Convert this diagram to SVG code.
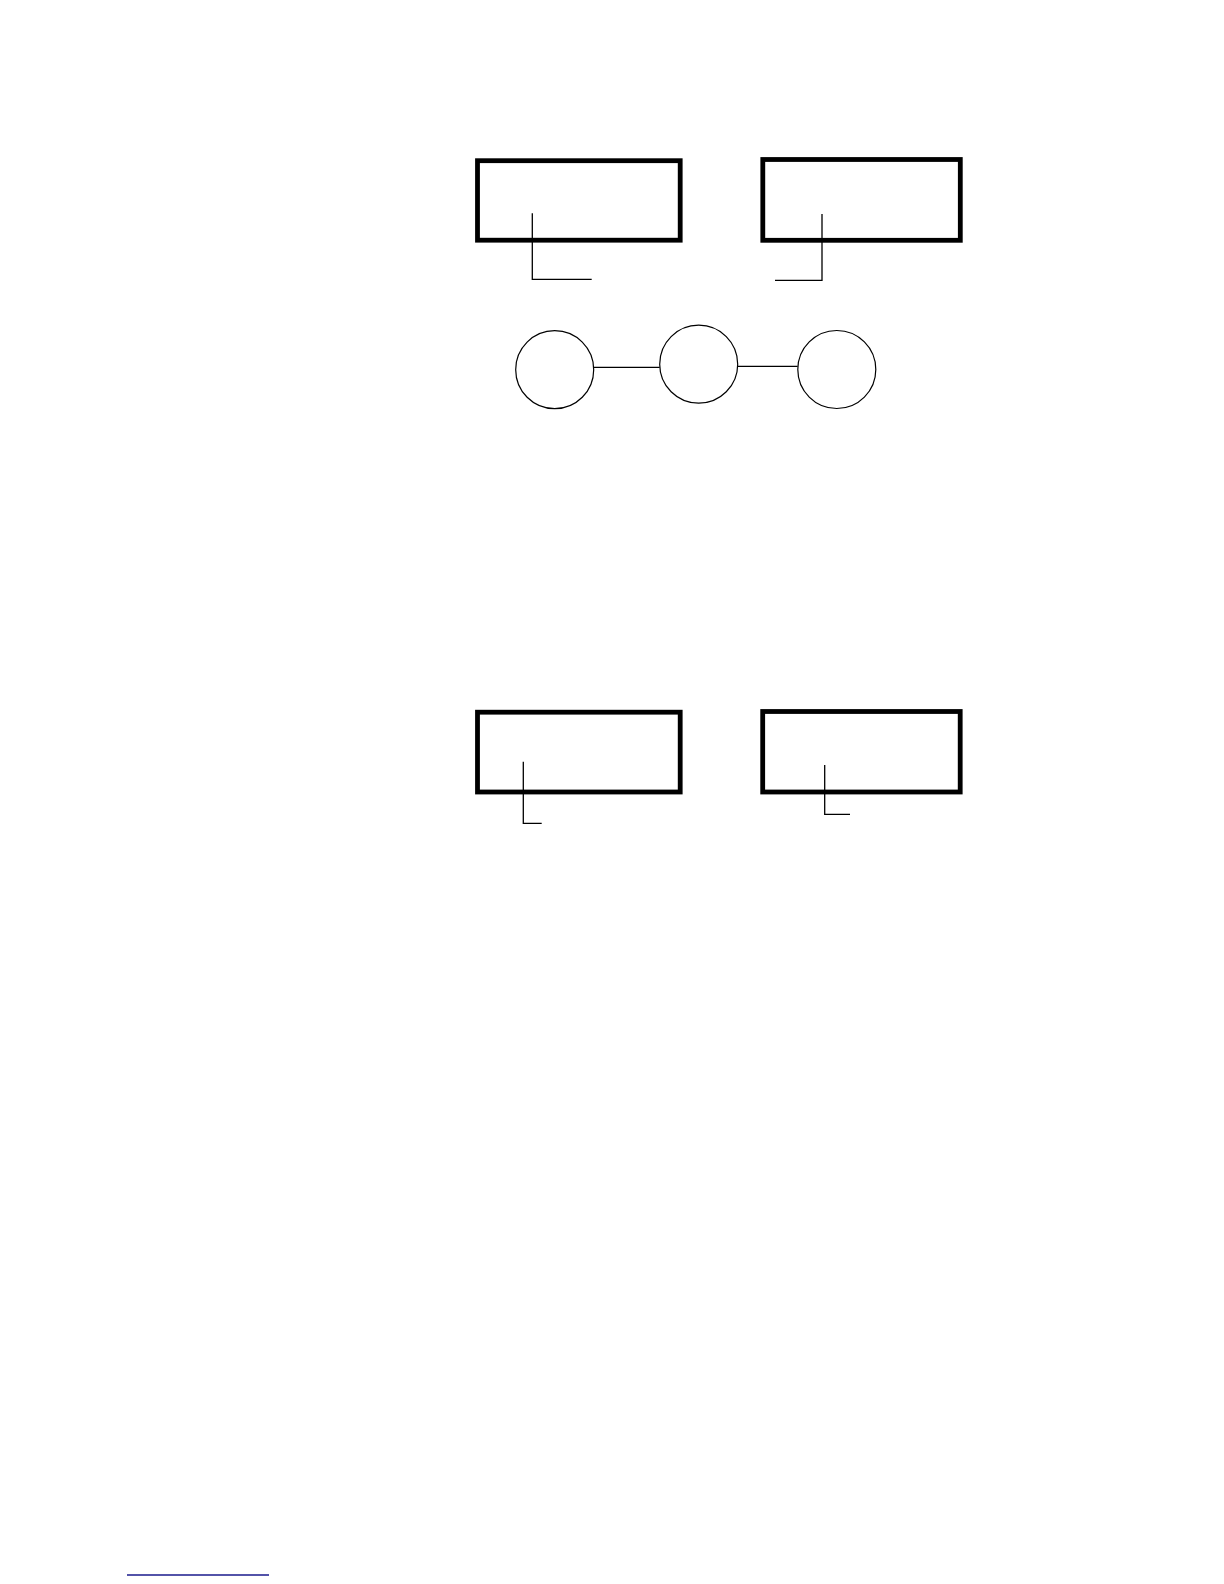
<svg xmlns="http://www.w3.org/2000/svg" width="1224" height="1584" viewBox="0 0 1224 1584">
<style>
.box{fill:none;stroke:#000;stroke-width:4.8}
.circ{fill:none;stroke:#000;stroke-width:1.2}
.lead{fill:none;stroke:#000;stroke-width:1.3}
</style>
<rect width="1224" height="1584" fill="#fff"/>
<g id="box1"><rect class="box" x="477.5" y="160.7" width="202.7" height="79.5"/></g>
<g id="box2"><rect class="box" x="762.8" y="159.5" width="197.5" height="80.8"/></g>
<g id="box3"><rect class="box" x="477.5" y="712.2" width="202.7" height="79.8"/></g>
<g id="box4"><rect class="box" x="762.7" y="711.5" width="197.5" height="80.5"/></g>
<g id="circle1"><circle class="circ" cx="554.7" cy="369.7" r="39"/></g>
<g id="circle2"><circle class="circ" cx="698.7" cy="364.2" r="39"/></g>
<g id="circle3"><circle class="circ" cx="836.8" cy="369.5" r="39"/></g>
<g id="connectors">
<polyline class="lead" points="532.3,213.3 532.3,279.3 591.7,279.3"/>
<polyline class="lead" points="822,214 822,280.3 775,280.3"/>
<polyline class="lead" points="523.3,761.7 523.3,823.3 541.7,823.3"/>
<polyline class="lead" points="824.7,765 824.7,814.3 850,814.3"/>
<line class="lead" x1="593.7" y1="367.3" x2="659.7" y2="367.3"/>
<line class="lead" x1="737.7" y1="366.3" x2="797.7" y2="366.3"/>
</g>
<line x1="127" y1="1575" x2="269" y2="1575" stroke="#1a1a8c" stroke-width="1.3"/>
</svg>
